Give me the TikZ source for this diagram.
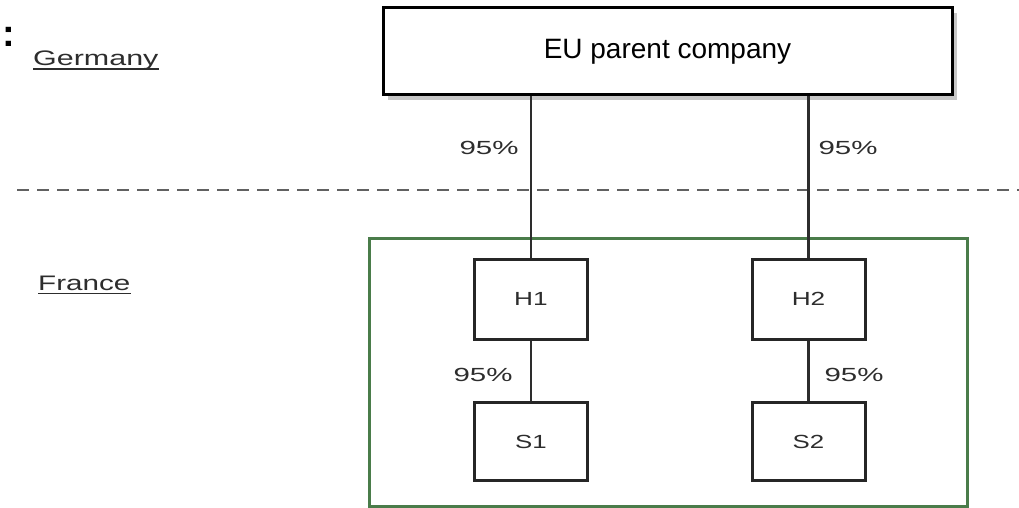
\documentclass[tikz,border=0pt]{standalone}
\usepackage{fontspec}
\setmainfont{Liberation Sans}
\usetikzlibrary{shadows}
\definecolor{boxgreen}{RGB}{74,124,74}
\definecolor{txtgray}{RGB}{45,45,45}
\definecolor{linegray}{RGB}{45,45,45}
\newcommand{\widetxt}[2]{\scalebox{#1}[1]{#2}}
\tikzset{
  eubox/.style={draw=black, line width=3pt, fill=white, minimum width=569pt, minimum height=87pt,
    inner sep=0pt, font=\fontsize{28}{30}\selectfont, text=black,
    drop shadow={shadow xshift=5pt, shadow yshift=-5pt, fill=black!22, opacity=1}},
  orgbox/.style={draw=black!85, line width=3pt, fill=white, minimum width=113pt, minimum height=80pt,
    inner sep=0pt, font=\fontsize{19}{21}\selectfont, text=txtgray},
  pct/.style={inner sep=0pt, font=\fontsize{19}{21}\selectfont, text=txtgray},
  country/.style={inner sep=0pt, anchor=base west, font=\fontsize{21}{23}\selectfont, text=txtgray},
  link/.style={draw=linegray, line width=2.5pt},
  border/.style={draw=linegray!75, line width=1.8pt, dash pattern=on 12pt off 8pt},
  region/.style={draw=boxgreen, line width=3pt}
}
\begin{document}
\begin{tikzpicture}[x=1pt, y=-1pt]
\useasboundingbox (0,0) rectangle (1019,508);
\fill[white] (0,0) rectangle (1019,508);

% colon at top left
\node[inner sep=0pt, font=\bfseries\fontsize{38}{38}\selectfont] (colon) at (9,37) {:};

% country labels
\node[country] (germany) at (33,66) {\widetxt{1.45}{Germany}};
\draw[txtgray, line width=1.8pt] ([yshift=-3pt]germany.base west) -- ([yshift=-3pt]germany.base east);
\node[country] (france) at (38,290) {\widetxt{1.41}{France}};
\draw[txtgray, line width=1.8pt] ([yshift=-3.5pt]france.base west) -- ([yshift=-3.5pt]france.base east);

% border line
\coordinate (bl) at (17,190);
\coordinate (br) at (1019,190);
\draw[border] (bl) -- (br);

% France region
\draw[region] (369,238) rectangle (967,506);

% nodes
\node[eubox] (eu) at (667.5,51.5) {EU parent company};
\node[orgbox] (h1) at (531,299) {\widetxt{1.38}{H1}};
\node[orgbox] (h2) at (808.5,299) {\widetxt{1.38}{H2}};
\node[orgbox, minimum height=78pt] (s1) at (531,441.5) {\widetxt{1.36}{S1}};
\node[orgbox, minimum height=78pt] (s2) at (808.5,441.5) {\widetxt{1.36}{S2}};

% connectors
\draw[link] (eu.south -| h1.north) -- (h1.north);
\draw[link] (eu.south -| h2.north) -- (h2.north);
\draw[link] (h1.south) -- (s1.north);
\draw[link] (h2.south) -- (s2.north);

% percentages
\node[pct] (p1) at (489,148) {\widetxt{1.55}{95\%}};
\node[pct] (p2) at (848,148) {\widetxt{1.55}{95\%}};
\node[pct] (p3) at (483,375) {\widetxt{1.55}{95\%}};
\node[pct] (p4) at (854,375) {\widetxt{1.55}{95\%}};
\end{tikzpicture}
\end{document}
